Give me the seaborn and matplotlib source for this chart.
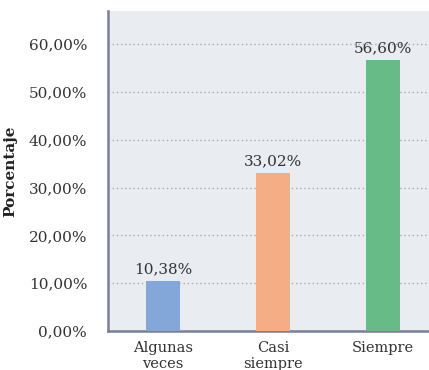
import matplotlib
matplotlib.use("Agg")
import matplotlib.pyplot as plt
import seaborn as sns
import pandas as pd

categorias = ["Algunas\nveces", "Casi\nsiempre", "Siempre"]
porcentajes = [10.38, 33.02, 56.60]
colores = ["#84a7d9", "#f5ad86", "#66bb87"]
marcas_y = [0, 10, 20, 30, 40, 50, 60]

sns.set_theme(style="white")
plt.rcParams["font.family"] = ["DejaVu Serif"]

df = pd.DataFrame({"categoria": categorias, "porcentaje": porcentajes})

fig = plt.figure(figsize=(4.29, 3.70), dpi=100)
ax = fig.add_axes([108 / 429, 1 - 331 / 370, 1 - 108 / 429, (331 - 11) / 370])
ax.set_facecolor("#e9edf1")

sns.barplot(data=df, x="categoria", y="porcentaje", hue="categoria",
            palette=colores, width=0.31, legend=False, ax=ax, zorder=3,
            saturation=1, linewidth=0, edgecolor="none")

def fmt(v):
    return f"{v:.2f}".replace(".", ",") + "%"

for i, v in enumerate(porcentajes):
    ax.text(i, v + 1.0, fmt(v), ha="center", va="bottom", fontsize=11,
            color="#333333", zorder=4)

ax.set_xlim(-0.5, 2.42)
ax.set_ylim(0, 66.9)
ax.set_yticks(marcas_y)
ax.set_yticklabels([fmt(v) for v in marcas_y], fontsize=11, color="#333333")
ax.tick_params(axis="y", which="major", direction="out", length=10, width=1.8,
               color="#7a7f99", pad=5)
ax.tick_params(axis="x", length=0, pad=7, labelsize=10.5, labelcolor="#333333")
ax.set_xlabel("")
ax.set_ylabel("Porcentaje", fontsize=11, fontweight="bold", color="#222222",
              labelpad=8)
ax.yaxis.grid(True, linestyle=(0, (1, 2)), color="#a6a8bb", linewidth=1.0,
              zorder=1)
ax.xaxis.grid(False)
ax.set_axisbelow(True)

for s in ["top", "right"]:
    ax.spines[s].set_visible(False)
for s in ["left", "bottom"]:
    ax.spines[s].set_color("#7a7f99")
    ax.spines[s].set_linewidth(1.8)

fig.savefig("out.png", dpi=100, facecolor="white")
